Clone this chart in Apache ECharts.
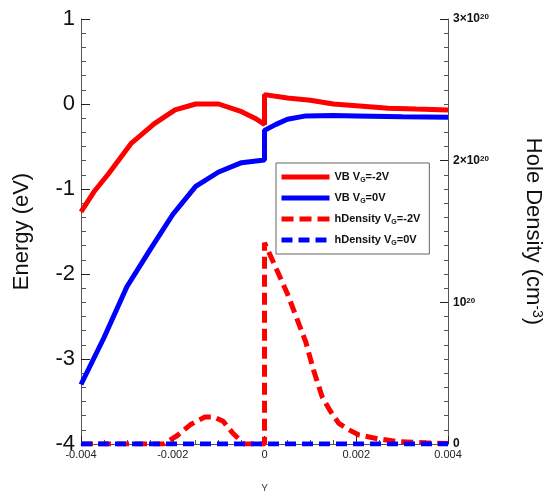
<!DOCTYPE html>
<html>
<head>
<meta charset="utf-8">
<script src="https://cdn.jsdelivr.net/npm/echarts@6/dist/echarts.min.js"></script>
<style>
  html, body { margin: 0; padding: 0; background: #fff; }
  #chart { width: 550px; height: 491px; }
</style>
</head>
<body>
<div id="chart"></div>
<script>
// Valence band energy (eV) vs position Y
const xVbM2 = [-0.004, -0.0037, -0.0034, -0.0029, -0.0024, -0.00195, -0.0015, -0.001, -0.0005, -0.0002, 0, 0, 0.0005, 0.001, 0.0015, 0.002, 0.0027, 0.0033, 0.004];
const eVbM2 = [-1.27, -1.02, -0.82, -0.46, -0.23, -0.07, 0.0, 0.0, -0.09, -0.17, -0.24, 0.11, 0.07, 0.045, 0.0, -0.02, -0.05, -0.06, -0.07];

const xVb0 = [-0.004, -0.0035, -0.003, -0.0025, -0.002, -0.0015, -0.001, -0.0005, 0, 0, 0.00025, 0.0005, 0.0009, 0.0015, 0.002, 0.003, 0.004];
const eVb0 = [-3.3, -2.75, -2.15, -1.72, -1.3, -0.97, -0.8, -0.69, -0.66, -0.31, -0.24, -0.18, -0.14, -0.135, -0.14, -0.15, -0.155];

// Hole density, in units of 1e20 cm^-3
const xHdM2 = [-0.004, -0.0022, -0.0019, -0.0016, -0.0013, -0.0011, -0.0009, -0.0007, -0.00045, 0, 0, 0.0001, 0.00024, 0.0005, 0.0007, 0.0009, 0.00107, 0.00126, 0.00144, 0.00162, 0.00184, 0.00206, 0.0025, 0.00294, 0.0035, 0.004];
const dHdM2 = [0, 0, 0.06, 0.14, 0.19, 0.19, 0.16, 0.08, 0, 0, 1.42, 1.35, 1.25, 1.06, 0.89, 0.72, 0.52, 0.33, 0.23, 0.146, 0.1, 0.064, 0.035, 0.016, 0.008, 0.004];

const xHd0 = [-0.004, 0.004];
const dHd0 = [0, 0];

const rightTickLabels = ['0', '10{sup|20}', '2×10{sup|20}', '3×10{sup|20}'];

const seriesNames = ['VB VG=-2V', 'VB VG=0V', 'hDensity VG=-2V', 'hDensity VG=0V'];

const FONT = 'Liberation Sans';
const RED = '#ff0000';
const BLUE = '#0000ff';
const AXIS = '#555';

function pairs(xs, ys) {
    return xs.map((x, i) => [x, ys[i]]);
}

const chart = echarts.init(document.getElementById('chart'), null, { renderer: 'canvas' });

chart.setOption({
    animation: false,
    backgroundColor: '#fff',
    textStyle: { fontFamily: FONT },
    grid: { left: 81, right: 102, top: 19, bottom: 47, containLabel: false, outerBoundsMode: 'none' },
    legend: {
        orient: 'vertical',
        left: 276,
        top: 163,
        padding: [7, 9, 7, 3],
        borderColor: '#666',
        borderWidth: 1,
        backgroundColor: '#fff',
        itemWidth: 48,
        itemHeight: 5,
        itemGap: 7,
        data: seriesNames,
        itemStyle: { opacity: 0 },
        lineStyle: { width: 5 },
        formatter: name => name.replace('VG', 'V{sub|G}'),
        textStyle: {
            fontFamily: FONT,
            fontSize: 11,
            fontWeight: 'bold',
            color: '#111',
            lineHeight: 14,
            rich: {
                sub: { fontSize: 7, fontWeight: 'bold', fontFamily: FONT, color: '#111', verticalAlign: 'bottom', lineHeight: 8 }
            }
        }
    },
    xAxis: {
        type: 'value',
        min: -0.004,
        max: 0.004,
        interval: 0.002,
        name: 'Y',
        nameLocation: 'middle',
        nameGap: 40,
        nameTextStyle: { fontFamily: FONT, fontSize: 10, color: '#444' },
        axisLine: { onZero: false, lineStyle: { color: AXIS, width: 1 } },
        axisTick: { inside: true, length: 8, lineStyle: { color: '#222' } },
        minorTick: { show: true, splitNumber: 4, length: 4, lineStyle: { color: AXIS } },
        axisLabel: {
            fontFamily: FONT, fontSize: 11, color: '#222', margin: 5,
            formatter: v => String(+v.toFixed(3))
        },
        splitLine: { show: false }
    },
    yAxis: [{
        type: 'value',
        min: -4,
        max: 1,
        interval: 1,
        name: 'Energy (eV)',
        nameLocation: 'middle',
        nameGap: 48,
        nameTextStyle: { fontFamily: FONT, fontSize: 22, color: '#111' },
        axisLine: { show: true, onZero: false, lineStyle: { color: AXIS, width: 1 } },
        axisTick: { inside: true, length: 9, lineStyle: { color: '#222' } },
        minorTick: { show: true, splitNumber: 6, length: 5, lineStyle: { color: AXIS } },
        axisLabel: { fontFamily: FONT, fontSize: 22, color: '#111', margin: 6 },
        splitLine: { show: false }
    }, {
        type: 'value',
        position: 'right',
        min: 0,
        max: 3,
        interval: 1,
        name: 'Hole Density (cm{sup|-3})',
        nameLocation: 'middle',
        nameRotate: -90,
        nameGap: 74,
        nameTextStyle: {
            fontFamily: FONT, fontSize: 22, color: '#111',
            rich: { sup: { fontFamily: FONT, fontSize: 14, color: '#111', verticalAlign: 'top', lineHeight: 12 } }
        },
        axisLine: { show: true, onZero: false, lineStyle: { color: AXIS, width: 1 } },
        axisTick: { inside: true, length: 8, lineStyle: { color: '#222' } },
        minorTick: { show: true, splitNumber: 10, length: 4, lineStyle: { color: AXIS } },
        axisLabel: {
            fontFamily: FONT, fontSize: 12, fontWeight: 'bold', color: '#111', margin: 5,
            formatter: v => rightTickLabels[Math.round(v)],
            rich: { sup: { fontFamily: FONT, fontSize: 8, fontWeight: 'bold', color: '#111', verticalAlign: 'top', lineHeight: 8, padding: [0, 0, 7, 0] } }
        },
        splitLine: { show: false }
    }],
    series: [{
        name: seriesNames[0],
        type: 'line',
        yAxisIndex: 0,
        symbol: 'none',
        data: pairs(xVbM2, eVbM2),
        lineStyle: { color: RED, width: 5 },
        itemStyle: { color: RED }
    }, {
        name: seriesNames[1],
        type: 'line',
        yAxisIndex: 0,
        symbol: 'none',
        data: pairs(xVb0, eVb0),
        lineStyle: { color: BLUE, width: 5 },
        itemStyle: { color: BLUE }
    }, {
        name: seriesNames[2],
        type: 'line',
        yAxisIndex: 1,
        symbol: 'none',
        data: pairs(xHdM2, dHdM2),
        lineStyle: { color: RED, width: 5, type: [12, 6] },
        itemStyle: { color: RED }
    }, {
        name: seriesNames[3],
        type: 'line',
        yAxisIndex: 1,
        symbol: 'none',
        data: pairs(xHd0, dHd0),
        lineStyle: { color: BLUE, width: 5, type: [11, 6] },
        itemStyle: { color: BLUE }
    }]
});
</script>
</body>
</html>
